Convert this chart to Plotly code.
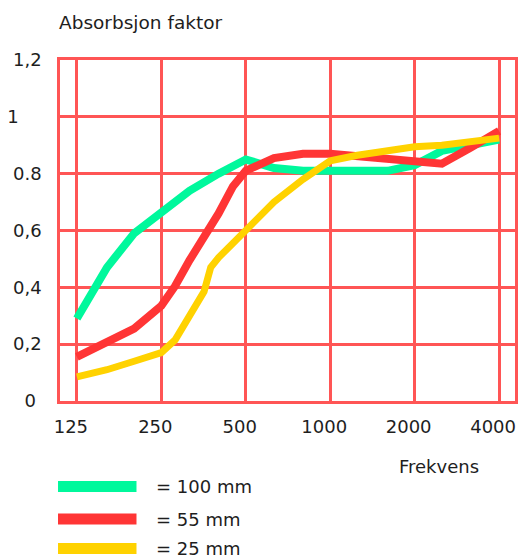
import math
import plotly.graph_objects as go

# ---------------- data ----------------
freq_100 = [125, 160, 200, 250, 315, 400, 500, 630, 800, 1000, 1250, 1600, 2000, 2500, 3150, 4000]
abs_100 = [0.29, 0.47, 0.59, 0.66, 0.74, 0.80, 0.85, 0.82, 0.81, 0.81, 0.81, 0.81, 0.83, 0.88, 0.90, 0.92]

freq_55 = [125, 160, 200, 250, 280, 315, 355, 400, 450, 500, 630, 800, 1000, 1250, 1600, 2000, 2500, 3150, 4000]
abs_55 = [0.155, 0.205, 0.255, 0.335, 0.405, 0.495, 0.575, 0.66, 0.755, 0.81, 0.855, 0.87, 0.87, 0.86, 0.85, 0.84, 0.835, 0.89, 0.95]

freq_25 = [125, 160, 200, 250, 280, 315, 355, 375, 400, 450, 500, 630, 800, 1000, 1250, 1600, 2000, 2500, 3150, 4000]
abs_25 = [0.085, 0.11, 0.14, 0.17, 0.215, 0.30, 0.385, 0.47, 0.505, 0.555, 0.60, 0.70, 0.78, 0.845, 0.865, 0.88, 0.895, 0.90, 0.91, 0.925]

series_names = ["= 100 mm", "= 55 mm", "= 25 mm"]
series_colors = ["#00f89c", "#ff3535", "#ffd200"]

x_tick_vals = [125, 250, 500, 1000, 2000, 4000]
x_tick_text = ["125", "250", "500", "1000", "2000", "4000"]
y_tick_vals = [0, 0.2, 0.4, 0.6, 0.8, 1.0, 1.2]
y_tick_text = ["0\u00a0", "0,2", "0,4", "0,6", "0.8", "1\u2007\u2007", "1,2"]

title_text = "Absorbsjon faktor"
x_title_text = "Frekvens"

# ---------------- figure ----------------
W, H = 520, 560
ML, MR, MT, MB = 60, 2, 60, 159
PW, PH = W - ML - MR, H - MT - MB
FONT = "DejaVu Sans"
TXT = "#1e1e1e"
GRID = "rgb(255,85,85)"


def px(x):
    return (x - ML) / PW


def py(y):
    return (H - MB - y) / PH


fig = go.Figure()
widths = [8, 8, 7]
for f, a, name, col, w in zip([freq_100, freq_55, freq_25], [abs_100, abs_55, abs_25],
                              series_names, series_colors, widths):
    fig.add_trace(go.Scatter(x=f, y=a, mode="lines", name=name,
                             line=dict(color=col, width=w), showlegend=False))

fig.update_layout(
    width=W, height=H,
    margin=dict(l=ML, r=MR, t=MT, b=MB),
    paper_bgcolor="white", plot_bgcolor="white",
    font=dict(family=FONT, size=18, color=TXT),
)

lo = math.log10(125) - 0.2 * math.log10(2)
hi = math.log10(4000) + (16 / 85) * math.log10(2)

fig.update_xaxes(type="log", range=[lo, hi], tickvals=x_tick_vals, ticktext=x_tick_text,
                 showgrid=True, gridcolor=GRID, gridwidth=2.5,
                 showline=True, linecolor=GRID, linewidth=2.5, mirror=True,
                 ticks="", ticklabelshift=-6, ticklabelstandoff=8,
                 tickfont=dict(family=FONT, size=18, color=TXT), zeroline=False)
fig.update_yaxes(range=[0, 1.2], tickvals=y_tick_vals, ticktext=y_tick_text,
                 showgrid=True, gridcolor=GRID, gridwidth=2.5,
                 showline=True, linecolor=GRID, linewidth=2.5, mirror=True,
                 ticks="", ticklabelstandoff=12,
                 tickfont=dict(family=FONT, size=18, color=TXT), zeroline=False)

annotations = [
    dict(text=title_text, xref="paper", yref="paper", x=px(57), y=py(22),
         xanchor="left", yanchor="middle", showarrow=False,
         font=dict(family=FONT, size=18.5, color=TXT)),
    dict(text=x_title_text, xref="paper", yref="paper", x=px(442), y=py(466),
         xanchor="center", yanchor="middle", showarrow=False,
         font=dict(family=FONT, size=18, color=TXT)),
]
shapes = []
leg_y = [486.5, 519, 548.5]
for name, col, ly in zip(series_names, series_colors, leg_y):
    shapes.append(dict(type="line", xref="paper", yref="paper",
                       x0=px(58), x1=px(137), y0=py(ly), y1=py(ly),
                       line=dict(color=col, width=11)))
    annotations.append(dict(text=name, xref="paper", yref="paper", x=px(155), y=py(ly),
                            xanchor="left", yanchor="middle", showarrow=False,
                            font=dict(family=FONT, size=18, color=TXT)))

fig.update_layout(annotations=annotations, shapes=shapes)
fig.write_html("out.html", config={"displayModeBar": False},
               post_script="document.body.style.margin='0';document.body.style.overflow='hidden';")
